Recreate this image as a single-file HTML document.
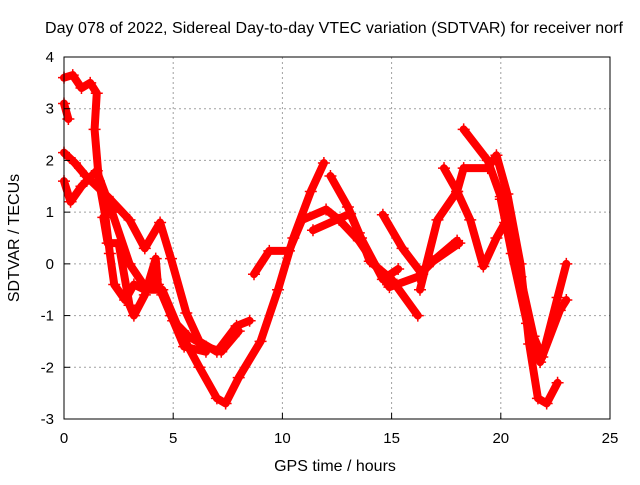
<!DOCTYPE html>
<html><head><meta charset="utf-8"><style>
body{margin:0;background:#fff}
svg text{font-family:"Liberation Sans",sans-serif;font-size:15px;fill:#000}
svg text.big{font-size:16px}
</style></head><body>
<svg id="chart" width="640" height="480" xmlns="http://www.w3.org/2000/svg">
<text class="big" x="334" y="33" text-anchor="middle" textLength="578">Day 078 of 2022, Sidereal Day-to-day VTEC variation (SDTVAR) for receiver norf</text>
<text class="big" x="335" y="471" text-anchor="middle">GPS time / hours</text>
<text class="big" transform="translate(19,238) rotate(-90)" text-anchor="middle">SDTVAR / TECUs</text>
<g id="grid"></g><g id="series"></g><g id="axes"></g>
</svg>
<script>
const xTicks=[0,5,10,15,20,25];
const yTicks=[-3,-2,-1,0,1,2,3,4];
const track1=[[0,2.15],[0.5,1.95],[1,1.7],[2,1.3],[3,0.85],[3.7,0.3],[4.4,0.8],[4.9,0.1],[5.6,-0.95],[6.2,-1.5],[7,-1.7],[7.9,-1.2],[8.5,-1.1]];
const track2=[[0,1.6],[0.3,1.2],[0.8,1.5],[1.5,1.8],[2.2,1.0],[3,0],[3.8,-0.5],[4.5,-0.5],[5.3,-1.3],[6.2,-2.0],[7.0,-2.6],[7.4,-2.7],[8,-2.2],[9,-1.5],[9.8,-0.5],[10.5,0.5],[11.3,1.4],[11.9,1.95]];
const track3=[[0,3.6],[0.4,3.65],[0.8,3.4],[1.2,3.5],[1.5,3.3],[1.4,2.6],[1.6,1.6],[1.9,0.9],[2.1,0.2],[2.3,-0.4],[2.8,-0.7],[3.2,-0.4],[3.7,-0.5],[4.2,-0.3],[4.5,-0.6],[5,-1.1],[5.7,-1.4],[6.5,-1.6],[7.2,-1.7],[8,-1.3]];
const track4=[[0,3.1],[0.2,2.8]];
const track5=[[1.8,0.9],[2,0.4],[2.5,0.4],[3,-0.8],[3.2,-1.0],[3.7,-0.6],[4.2,0.1],[4.3,-0.4],[4.9,-1],[5.5,-1.6],[6.5,-1.7]];
const track6=[[8.7,-0.2],[9.4,0.25],[10.3,0.25],[10.9,0.85],[12,1.05],[12.6,0.85],[13.5,0.45],[14.3,-0.05],[14.9,-0.45],[16.2,-0.25],[16.9,0.05],[18.1,0.4]];
const track7=[[12.2,1.7],[13,1.1],[13.5,0.6],[14,0.05],[15,-0.3],[16.2,-1.0]];
const track8=[[14.6,0.95],[15.5,0.3],[16.4,-0.2]];
const track9=[[11.4,0.65],[13.1,0.97],[13.6,0.5],[14.6,-0.3],[15.3,-0.1]];
const track10=[[18.3,2.6],[19.4,2.0],[20,1.3],[20.4,0.65],[20.9,-0.25],[21.5,-1.4],[21.9,-1.8],[22.6,-0.65],[23,0]];
const track11=[[17.4,1.85],[18,1.4],[18.6,0.85],[19.2,-0.05],[19.8,0.5],[20.2,0.8]];
const track12=[[16.3,-0.5],[17.1,0.85],[18,1.4],[18.3,1.85],[19.4,1.85],[19.8,2.1],[20.3,1.35],[20.9,0],[21.3,-1.55],[21.7,-2.6],[22.1,-2.7],[22.6,-2.3]];
const track13=[[16.6,-0.05],[18,0.45]];
const track14=[[20,1.25],[20.5,0.2],[21.2,-1.15],[21.8,-1.9],[22.7,-0.9],[23,-0.7]];
const tracks=[track1,track2,track3,track4,track5,track6,track7,track8,track9,track10,track11,track12,track13,track14];
const L=64,R=610,T=57,B=419,xmax=25,ymin=-3,ymax=4;
const X=v=>L+(v/xmax)*(R-L);
const Y=v=>B-(v-ymin)/(ymax-ymin)*(B-T);
const NS='http://www.w3.org/2000/svg';
function mk(tag,attrs,parent){const e=document.createElementNS(NS,tag);for(const k in attrs)e.setAttribute(k,attrs[k]);parent.appendChild(e);return e;}
const grid=document.getElementById('grid'),axes=document.getElementById('axes'),ser=document.getElementById('series');
xTicks.forEach(t=>{
  if(t>0&&t<xmax){const g=mk('line',{x1:X(t),x2:X(t),y1:T,y2:B,stroke:'#a0a0a0','stroke-dasharray':'2,3'},grid);
  
  }
  const tk=mk('line',{x1:X(t),x2:X(t),y1:B,y2:B-6,stroke:'#000'},axes);
  
  
  const lb=mk('text',{x:X(t),y:B+24,'text-anchor':'middle'},axes);lb.textContent=t;
  
  
});
yTicks.forEach(t=>{
  if(t>ymin&&t<ymax){const g=mk('line',{x1:L,x2:R,y1:Y(t),y2:Y(t),stroke:'#a0a0a0','stroke-dasharray':'2,3'},grid);
  
  }
  const tk=mk('line',{x1:L,x2:L+6,y1:Y(t),y2:Y(t),stroke:'#000'},axes);
  
  
  const lb=mk('text',{x:L-10,y:Y(t)+5,'text-anchor':'end'},axes);lb.textContent=t;
  
  
});
const box=mk('rect',{x:L,y:T,width:R-L,height:B-T,fill:'none',stroke:'#000'},axes);


tracks.forEach((tr,i)=>{
  const pl=mk('polyline',{points:tr.map(p=>X(p[0])+','+Y(p[1])).join(' '),fill:'none',stroke:'#ff0000','stroke-width':8,'stroke-linejoin':'round','stroke-linecap':'round'},ser);
  
  
  tr.forEach(p=>{const x=X(p[0]),y=Y(p[1]);
    const m=mk('path',{d:`M${x-6},${y}H${x+6}M${x},${y-6}V${y+6}`,stroke:'#ff0000','stroke-width':1.5},ser);
    
    });
});
</script>
</body></html>
